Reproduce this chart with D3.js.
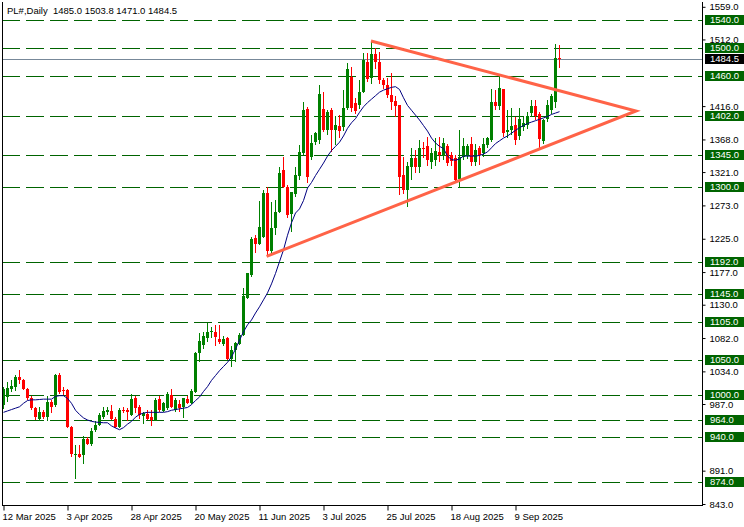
<!DOCTYPE html>
<html><head><meta charset="utf-8">
<script src="https://cdn.jsdelivr.net/npm/d3@7"></script>
<style>body{margin:0;background:#fff;overflow:hidden;} svg{display:block;font-family:"Liberation Sans",Arial,sans-serif;}</style>
</head><body><svg id="c" width="744" height="527"></svg>
<script>
const dateLabels = ["12 Mar 2025","3 Apr 2025","28 Apr 2025","20 May 2025","11 Jun 2025","3 Jul 2025","25 Jul 2025","18 Aug 2025","9 Sep 2025"];
const dateTickBars = [0,16,32,48,64,80,96,112,128];
const opens = [985,997,1009,1012,1026,1021,1009,995,981,965,976,969,990,985,1029,1007,1007,954,913,915,913,937,930,949,957,969,976,977,966,954,979,978,971,995,983,970,973,969,963,994,977,981,1000,978,987,983,994,988,1005,1060,1072,1082,1090,1091,1081,1073,1082,1052,1065,1074,1086,1139,1173,1226,1217,1228,1291,1207,1240,1263,1324,1300,1261,1290,1316,1349,1412,1343,1365,1367,1412,1382,1410,1382,1387,1386,1413,1458,1420,1418,1437,1479,1456,1491,1480,1454,1446,1432,1424,1418,1317,1295,1328,1341,1329,1356,1358,1336,1338,1350,1344,1358,1346,1341,1311,1343,1346,1362,1336,1355,1348,1360,1367,1422,1416,1440,1378,1381,1389,1373,1386,1389,1406,1416,1405,1366,1397,1410,1422,1485.0];
const highs = [1012,1018,1022,1029,1036,1023,1010,998,982,983,978,998,993,1030,1031,1012,1008,955,928,928,941,940,952,962,974,983,983,986,969,981,983,981,1001,999,986,976,978,978,995,998,990,1004,1008,995,993,996,998,1008,1062,1089,1091,1104,1098,1101,1101,1085,1083,1070,1077,1089,1154,1176,1228,1231,1280,1295,1299,1278,1281,1329,1343,1302,1293,1329,1360,1422,1415,1374,1379,1446,1437,1410,1413,1402,1403,1439,1478,1473,1427,1454,1493,1492,1510,1499,1494,1456,1456,1464,1430,1418,1343,1336,1355,1353,1367,1365,1372,1355,1370,1371,1370,1362,1350,1346,1382,1370,1362,1372,1362,1358,1370,1372,1440,1439,1458,1441,1410,1413,1401,1413,1401,1408,1425,1425,1408,1398,1425,1434,1506,1503.8];
const lows = [980,990,1005,1006,1016,1007,993,978,964,963,965,962,974,983,1001,1000,952,910,879,909,900,928,926,947,956,966,971,964,952,952,974,962,970,974,965,958,964,956,962,976,976,978,981,976,976,967,987,987,1003,1047,1066,1077,1082,1070,1074,1070,1050,1041,1048,1072,1085,1138,1170,1205,1216,1226,1199,1203,1230,1262,1298,1255,1235,1285,1310,1345,1305,1338,1360,1362,1378,1375,1350,1360,1370,1380,1410,1408,1405,1412,1435,1451,1448,1470,1448,1440,1428,1410,1400,1288,1290,1271,1310,1320,1320,1341,1330,1325,1330,1335,1338,1330,1330,1305,1298,1338,1340,1330,1330,1331,1342,1355,1365,1410,1410,1372,1370,1375,1360,1367,1380,1383,1400,1396,1355,1362,1393,1405,1413,1471.0];
const closes = [1008,1010,1013,1026,1021,1009,995,981,968,975,969,990,983,1029,1005,1006,954,915,915,911,937,929,948,957,971,977,978,965,954,979,977,975,994,981,971,974,965,964,993,978,989,1001,983,993,981,995,989,1006,1061,1078,1085,1090,1092,1083,1077,1081,1052,1065,1075,1086,1143,1175,1224,1218,1242,1291,1207,1240,1264,1320,1300,1259,1292,1317,1350,1410,1314,1363,1377,1434,1382,1407,1382,1389,1380,1413,1470,1413,1409,1437,1482,1455,1491,1479,1454,1446,1432,1422,1416,1314,1295,1330,1341,1329,1355,1355,1338,1348,1351,1346,1363,1334,1337,1310,1343,1358,1358,1335,1353,1346,1362,1370,1422,1416,1442,1377,1382,1387,1367,1398,1392,1402,1416,1402,1368,1396,1418,1430,1485,1484.5];
const maValues = [975,977,979,981,983,988,992,993,993,993.5,994,994,994,998,999,999,995,988,978,972,967,964,962,961,960.5,960,960,955.5,952.5,950,953,958,962,968,972,974,975,975,975,975,975,976,978,979,980,981,982,986,992,997,1005,1012,1021,1028,1035,1041,1047,1055,1066,1079,1091,1101,1108,1118,1127,1137,1147,1160,1175,1192,1209,1230,1248,1262,1268,1280,1298,1306,1316,1325,1334,1344,1352,1358,1364,1373,1384,1392,1398,1407,1415,1421,1426,1431,1436,1439,1441,1443,1444,1440,1428,1417,1410,1403,1396,1388,1380,1370,1363,1358,1355,1344,1339,1338,1340,1344,1344,1344,1344,1345,1347,1350,1356,1362,1366,1370,1373,1377,1381,1385,1388,1391,1393,1395,1397,1399,1401,1404,1406,1408];
const levels = [1540,1500,1460,1402,1345,1300,1192,1145,1105,1050,1000,964,940,874];
const axisTicks = [1559,1512,1416,1368,1321,1273,1225,1177,1130,1082,1034,987,891,843];
const lastPrice = 1484.5;
// triangle drawn as two lines meeting at the apex: upper-left -> apex -> lower-left
const triBars = [92,158.25,65.9];
const triPrices = [1509.8,1409,1199.7];
const headerText = "PL#,Daily  1485.0 1503.8 1471.0 1484.5";

const svg = d3.select("#c");
const L = 2, R = 702, T = 2, B = 505;
const x = d3.scaleLinear().domain([0,175]).range([3,703]);
const y = d3.scaleLinear().domain([843,1540]).range([504,20]);
const fontSize = "9.5px";

const plot = svg.append("g");
plot.append("defs").append("clipPath").attr("id","clip").append("rect").attr("x",L).attr("y",T).attr("width",R-L).attr("height",B-T);
const inner = plot.append("g").attr("clip-path","url(#clip)");

inner.selectAll("line.lv").data(levels).join("line")
  .attr("x1",L).attr("x2",R)
  .attr("y1",d=>Math.round(y(d))+0.5).attr("y2",d=>Math.round(y(d))+0.5)
  .attr("stroke","#006400").attr("stroke-width",1).attr("stroke-dasharray","18,6")
  .attr("shape-rendering","crispEdges");

inner.append("line").attr("x1",L).attr("x2",R)
  .attr("y1",Math.round(y(lastPrice))+0.5).attr("y2",Math.round(y(lastPrice))+0.5)
  .attr("stroke","#778899").attr("stroke-width",1).attr("shape-rendering","crispEdges");

const idx = d3.range(opens.length);
const cg = inner.append("g").attr("shape-rendering","crispEdges");
cg.selectAll("line.w").data(idx).join("line")
  .attr("x1",i=>Math.round(x(i))+0.5).attr("x2",i=>Math.round(x(i))+0.5)
  .attr("y1",i=>y(highs[i])).attr("y2",i=>y(lows[i]))
  .attr("stroke",i=>closes[i]>=opens[i]?"#008000":"#ff0000");
cg.selectAll("rect.b").data(idx).join("rect")
  .attr("x",i=>Math.round(x(i))-1).attr("width",3)
  .attr("y",i=>y(Math.max(opens[i],closes[i])))
  .attr("height",i=>Math.max(1,Math.abs(y(opens[i])-y(closes[i]))))
  .attr("fill",i=>closes[i]>=opens[i]?"#008000":"#ff0000");

inner.append("path").datum(idx)
  .attr("d",d3.line().x(i=>x(i)+0.5).y(i=>y(maValues[i])))
  .attr("fill","none").attr("stroke","#000080").attr("stroke-width",1);

inner.append("path").datum(d3.range(3))
  .attr("d",d3.line().x(k=>x(triBars[k])).y(k=>y(triPrices[k])))
  .attr("fill","none").attr("stroke","#ff6347").attr("stroke-width",3).attr("stroke-linejoin","miter");

plot.append("path").attr("d",`M${L+0.5},${T}V${B+0.5}H${R+0.5}V${T}`)
  .attr("fill","none").attr("stroke","#000").attr("stroke-width",1).attr("shape-rendering","crispEdges");

const ax = svg.append("g").attr("transform",`translate(${R+0.5},0)`)
  .call(d3.axisRight(y).tickValues(axisTicks).tickFormat(d3.format(".1f")).tickSize(3).tickPadding(4));
ax.select(".domain").remove();
ax.selectAll("text").attr("font-size",fontSize).attr("font-family","Liberation Sans, Arial, sans-serif").attr("fill","#000");
ax.selectAll("line").attr("stroke","#000");

const bx = svg.append("g").attr("transform",`translate(0,${B+0.5})`)
  .call(d3.axisBottom(x).tickValues(dateTickBars).tickFormat((d,k)=>dateLabels[k]).tickSize(5).tickPadding(3));
bx.select(".domain").remove();
bx.selectAll("text").attr("font-size",fontSize).attr("font-family","Liberation Sans, Arial, sans-serif").attr("text-anchor","start").attr("dx","-1").attr("fill","#000");
bx.selectAll("line").attr("stroke","#000").attr("transform","translate(0.5,0)");

const lg = svg.append("g");
lg.selectAll("rect").data(levels).join("rect")
  .attr("x",R+3).attr("y",d=>Math.round(y(d))-5).attr("width",44).attr("height",10)
  .attr("fill","#006400");
lg.selectAll("text").data(levels).join("text")
  .attr("x",R+8).attr("y",d=>Math.round(y(d))).attr("dy","0.35em")
  .attr("font-size",fontSize).attr("fill","#fff").text(d=>d3.format(".1f")(d));
svg.append("rect").attr("x",R+3).attr("y",Math.round(y(lastPrice))-5).attr("width",44).attr("height",10).attr("fill","#000");
svg.append("text").attr("x",R+8).attr("y",Math.round(y(lastPrice))).attr("dy","0.35em")
  .attr("font-size",fontSize).attr("fill","#fff").text(d3.format(".1f")(lastPrice));

svg.append("text").attr("x",7).attr("y",14).attr("font-size",fontSize).attr("fill","#000")
  .style("white-space","pre").text(headerText);
</script></body></html>
